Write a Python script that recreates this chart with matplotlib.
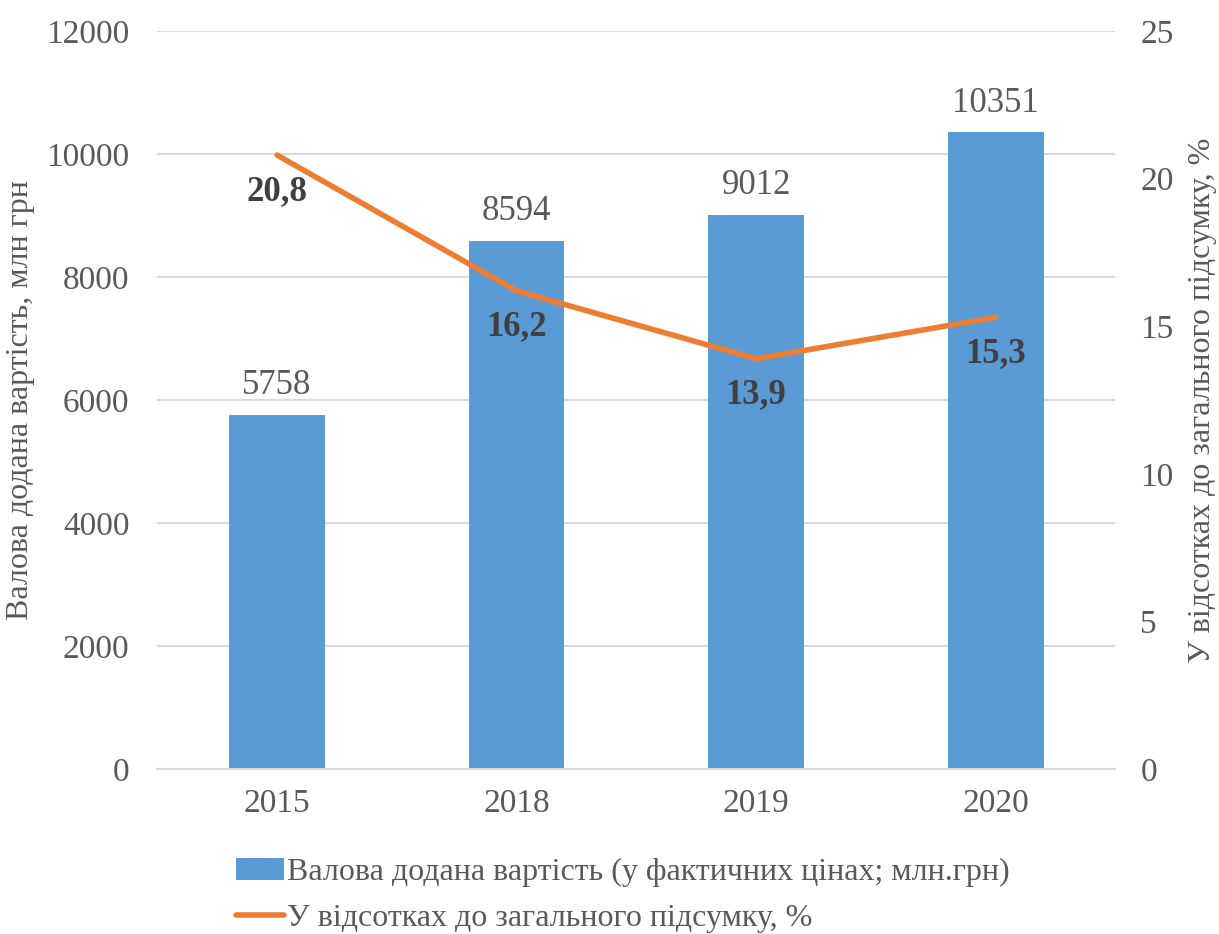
import numpy as np
import matplotlib.pyplot as plt

plt.rcParams['font.family'] = ['Liberation Serif', 'DejaVu Serif']

years = ['2015', '2018', '2019', '2020']
gva = [5758, 8594, 9012, 10351]
share = [20.8, 16.2, 13.9, 15.3]
share_labels = ['20,8', '16,2', '13,9', '15,3']

blue = '#5B9BD5'
orange = '#ED7D31'
grey = '#595959'

fig = plt.figure(figsize=(12.19, 9.34), dpi=100)
ax1 = fig.add_axes([0.129, 0.1767, 0.786, 0.79])
ax2 = ax1.twinx()

x = np.arange(len(years))
ax1.bar(x, gva, width=0.4, color=blue, zorder=2,
        label='Валова додана вартість (у фактичних цінах; млн.грн)')
for xi, v in zip(x, gva):
    ax1.annotate(str(v), (xi, v), xytext=(0, 9), textcoords='offset points',
                 ha='center', va='bottom', fontsize=25, color=grey)

ax2.plot(x, share, color=orange, lw=4, solid_capstyle='round', zorder=3,
         label='У відсотках до загального підсумку, %')
for xi, v, t in zip(x, share, share_labels):
    ax2.annotate(t, (xi, v), xytext=(0, -26), textcoords='offset points',
                 ha='center', va='center', fontsize=25, fontweight='bold', color='#404040')

ax1.set_xlim(-0.5, 3.5)
ax1.set_ylim(0, 12000)
ax2.set_ylim(0, 25)
ax1.set_yticks(np.arange(0, 12001, 2000))
ax2.set_yticks(np.arange(0, 26, 5))
ax1.set_xticks(x)
ax1.set_xticklabels(years)

ax1.grid(axis='y', color='#D9D9D9', lw=1.5, zorder=0)
ax1.set_axisbelow(True)
for ax in (ax1, ax2):
    for s in ax.spines.values():
        s.set_visible(False)
    ax.tick_params(length=0, labelsize=24, labelcolor=grey)
ax1.spines['bottom'].set_visible(True)
ax1.spines['bottom'].set_color('#D9D9D9')
ax1.spines['bottom'].set_linewidth(1.5)
ax1.tick_params(axis='y', pad=20)
ax1.tick_params(axis='x', pad=14)
ax2.tick_params(axis='y', pad=18)

ax1.set_ylabel('Валова додана вартість, млн грн', fontsize=23, color=grey, labelpad=8)
ax2.set_ylabel('У відсотках до загального підсумку, %', fontsize=23, color=grey, labelpad=10)

h1, l1 = ax1.get_legend_handles_labels()
h2, l2 = ax2.get_legend_handles_labels()
fig.legend(h1 + h2, l1 + l2, loc='upper left', bbox_to_anchor=(0.183, 0.095),
           frameon=False, fontsize=23, labelcolor=grey, handlelength=1.5,
           handletextpad=0.1, labelspacing=0.5, borderaxespad=0)

fig.savefig('out.png', dpi=100)
